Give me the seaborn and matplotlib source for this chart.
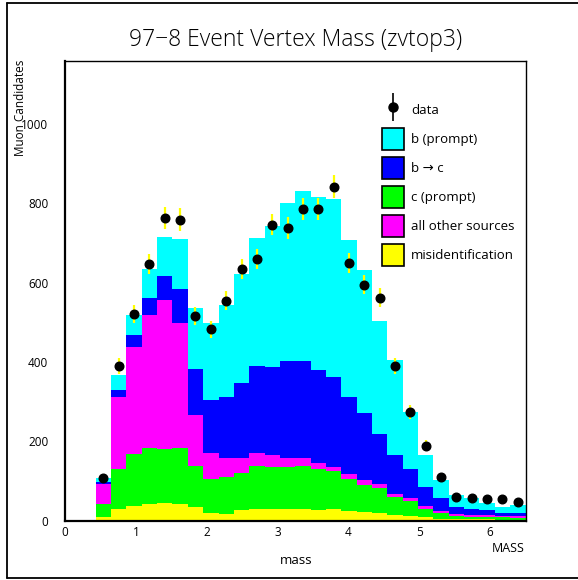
import numpy as np
import pandas as pd
import matplotlib
matplotlib.use("Agg")
import matplotlib.pyplot as plt
from matplotlib.lines import Line2D
from matplotlib.patches import Patch
from matplotlib.legend_handler import HandlerTuple
from matplotlib.ticker import MultipleLocator
import seaborn as sns

# 30 bins from 0 to 6.5, first two are empty
edges = np.linspace(0, 6.5, 31)
centers = (edges[:-1] + edges[1:]) / 2

# per-source counts, bin 0 .. 29
misid = [0, 0, 9, 29, 37, 42, 44, 42, 34, 20, 17, 26, 30, 30, 30,
         28, 27, 28, 25, 22, 18, 15, 11, 8, 5, 4, 3, 3, 2, 2]
c_prompt = [0, 0, 33, 101, 130, 141, 137, 141, 104, 84, 93, 94, 107, 106, 104,
            110, 103, 96, 80, 67, 64, 44, 37, 21, 13, 8, 7, 6, 6, 5]
other = [0, 0, 51, 181, 271, 335, 375, 315, 128, 66, 47, 38, 32, 28, 24,
         20, 14, 11, 12, 13, 10, 8, 9, 8, 6, 4, 4, 4, 3, 5]
b_to_c = [0, 0, 4, 18, 29, 44, 60, 87, 115, 135, 155, 188, 220, 222, 244,
          244, 235, 226, 195, 169, 127, 99, 73, 47, 32, 19, 16, 14, 9, 6]
b_prompt = [0, 0, 11, 39, 52, 72, 99, 125, 154, 192, 231, 276, 323, 356, 398,
            428, 436, 450, 395, 361, 284, 239, 143, 81, 46, 30, 26, 16, 15, 20]

data = [108, 389, 520, 647, 762, 759, 515, 482, 554, 635, 659, 746, 738, 786,
        786, 842, 650, 595, 562, 389, 274, 189, 109, 60, 58, 53, 53, 46]
data_err = [10, 20, 23, 25, 28, 28, 23, 22, 24, 25, 26, 27, 27, 28,
            28, 29, 25, 24, 24, 20, 17, 14, 10, 8, 8, 7, 7, 7]

# legend order
sources = ["b (prompt)", "b \u2192 c", "c (prompt)",
           "all other sources", "misidentification"]
colors = ["#00ffff", "#0000ff", "#00ff00", "#ff00ff", "#ffff00"]
# stacking order, top to bottom
stack_order = ["b (prompt)", "b \u2192 c", "all other sources",
               "c (prompt)", "misidentification"]
color_of = dict(zip(sources, colors))

df = pd.concat([
    pd.DataFrame({"mass": centers, "w": vals, "source": name})
    for name, vals in zip(sources, [b_prompt, b_to_c, c_prompt, other, misid])
], ignore_index=True)

sns.set_style("white")
plt.rcParams["font.family"] = ["Open Sans", "DejaVu Sans"]
plt.rcParams["text.color"] = "black"
plt.rcParams["xtick.color"] = "black"
plt.rcParams["ytick.color"] = "black"

fig = plt.figure(figsize=(5.78, 5.8), dpi=100)
ax = fig.add_axes([65 / 578, 1 - 520.5 / 580, 460.5 / 578, 460 / 580])

sns.histplot(data=df, x="mass", weights="w", hue="source", hue_order=stack_order,
             palette=color_of, bins=list(edges), multiple="stack", element="step",
             alpha=1, linewidth=0, legend=False, ax=ax)

x_data = centers[2:]
ax.errorbar(x_data, data, yerr=data_err, fmt="none", ecolor="#ffff00",
            elinewidth=1.6, capsize=0, zorder=5)
ax.plot(x_data, data, "o", color="black", markersize=6.2, zorder=6)

ax.set_xlim(0, 6.5)
ax.set_ylim(0, 1160)
ax.xaxis.set_major_locator(MultipleLocator(1))
ax.xaxis.set_minor_locator(MultipleLocator(0.2))
ax.yaxis.set_major_locator(MultipleLocator(200))
ax.yaxis.set_minor_locator(MultipleLocator(50))
ax.tick_params(axis="x", which="major", direction="in", length=7, width=1.2,
               top=False, labelsize=8.5, pad=4)
ax.tick_params(axis="x", which="minor", direction="in", length=4, width=1.0, top=False)
ax.tick_params(axis="y", which="major", direction="out", length=9, width=1.2,
               right=False, labelsize=8.5, pad=3)
ax.tick_params(axis="y", which="minor", direction="out", length=5, width=1.0, right=False)
for side in ["left", "bottom"]:
    ax.spines[side].set_linewidth(1.6)
    ax.spines[side].set_color("black")
for side in ["top", "right"]:
    ax.spines[side].set_linewidth(1.0)
    ax.spines[side].set_color("black")
ax.set_axisbelow(False)
for sp in ax.spines.values():
    sp.set_zorder(10)

ax.set_xlabel("")
ax.set_ylabel("")
fig.text(21 / 578, 1 - 60 / 580, "Muon Candidates", rotation=90,
         ha="center", va="top", fontsize=8.5)
fig.text(296 / 578, 1 - 561 / 580, "mass", ha="center", va="center", fontsize=9.5)
fig.text(525 / 578, 1 - 548 / 580, "MASS", ha="right", va="center", fontsize=9)
fig.text(296 / 578, 1 - 40 / 580, "97\u22128 Event Vertex Mass (zvtop3)",
         ha="center", va="center", fontsize=16.5, fontweight="light")

data_handle = (Line2D([], [], marker="|", color="black", markersize=20,
                      markeredgewidth=1.2, linestyle="None"),
               Line2D([], [], marker="o", color="black", markersize=6.5,
                      linestyle="None"))
handles = [data_handle] + [Patch(facecolor=color_of[s], edgecolor="black", linewidth=1.2)
                           for s in sources]
labels = ["data"] + sources
ax.legend(handles, labels, handler_map={tuple: HandlerTuple(ndivide=1)},
          loc="upper left", bbox_to_anchor=(0.688, 0.916), frameon=False,
          fontsize=9.5, handlelength=1.65, handleheight=2.19, labelspacing=0.53,
          handletextpad=0.55, borderaxespad=0, borderpad=0)

# outer frame
for xs, ys in [([7, 7], [2.5, 578]), ([7, 578], [2.5, 2.5]), ([7, 578], [578, 578])]:
    fig.add_artist(Line2D([x / 578 for x in xs], [1 - y / 580 for y in ys],
                          color="black", linewidth=1.3))

fig.savefig("out.png", dpi=100)
